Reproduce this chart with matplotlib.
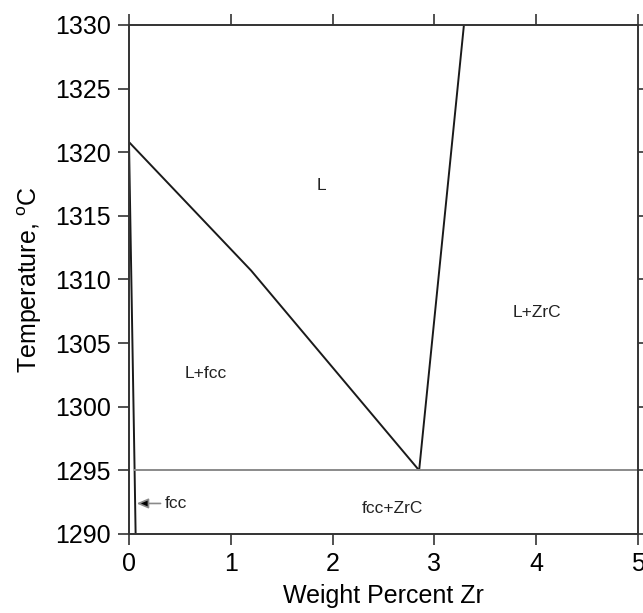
"""Cu-Zr-C isopleth near the Cu corner: Temperature vs wt% Zr."""

import matplotlib
matplotlib.use("Agg")
import matplotlib.pyplot as plt

plt.rcParams["font.family"] = ["Liberation Sans", "DejaVu Sans"]

# Phase boundaries (wt% Zr, deg C)
liquidus_fcc_x = [0.0, 1.2, 2.85]
liquidus_fcc_t = [1320.8, 1310.7, 1295.0]

liquidus_zrc_x = [2.85, 3.29]
liquidus_zrc_t = [1295.0, 1330.0]

solidus_x = [0.0, 0.055, 0.065]
solidus_t = [1320.8, 1295.0, 1290.0]

eutectic_x = [0.055, 5.0]
eutectic_t = [1295.0, 1295.0]

# Region labels
region_names = ["L", "L+fcc", "L+ZrC", "fcc+ZrC"]
region_x = [1.89, 0.755, 4.01, 2.59]
region_t = [1317.4, 1302.6, 1307.4, 1292.0]

x_ticks = [0, 1, 2, 3, 4, 5]
t_ticks = [1290, 1295, 1300, 1305, 1310, 1315, 1320, 1325, 1330]

fig = plt.figure(figsize=(6.43, 6.13), dpi=100)
ax = fig.add_axes([129 / 643, 79 / 613, 509 / 643, 509 / 613])

line_kw = dict(color="#1a1a1a", linewidth=1.4, solid_capstyle="butt")
ax.plot(liquidus_fcc_x, liquidus_fcc_t, **line_kw)
ax.plot(liquidus_zrc_x, liquidus_zrc_t, **line_kw)
ax.plot(solidus_x, solidus_t, **line_kw)
ax.plot(eutectic_x, eutectic_t, color="#8a8a8a", linewidth=1.4)

for name, x, t in zip(region_names, region_x, region_t):
    ax.text(x, t, name, fontsize=12.5, ha="center", va="center", color="#222222")

# small arrow pointing at the fcc single-phase sliver
ax.annotate(
    "",
    xy=(0.075, 1292.4),
    xytext=(0.31, 1292.4),
    arrowprops=dict(arrowstyle="-|>,head_length=0.7,head_width=0.3",
                    ec="#8a8a8a", fc="black", lw=1.2, shrinkA=0, shrinkB=0),
)
ax.text(0.35, 1292.4, "fcc", fontsize=12.5, ha="left", va="center", color="#222222")

ax.set_xlim(0, 5)
ax.set_ylim(1290, 1330)
ax.set_xticks(x_ticks)
ax.set_yticks(t_ticks)

for s in ax.spines.values():
    s.set_color("#333333")
    s.set_linewidth(1.4)

ax.tick_params(direction="out", length=8, width=1.2, color="#333333",
               labelsize=18, pad=5, top=True, right=True,
               labeltop=False, labelright=False)

ax.set_xlabel("Weight Percent Zr", fontsize=18, labelpad=6)
ax.set_ylabel(r"Temperature, $^{\mathregular{o}}$C", fontsize=18, labelpad=8)

fig.savefig("out.png", dpi=100)
